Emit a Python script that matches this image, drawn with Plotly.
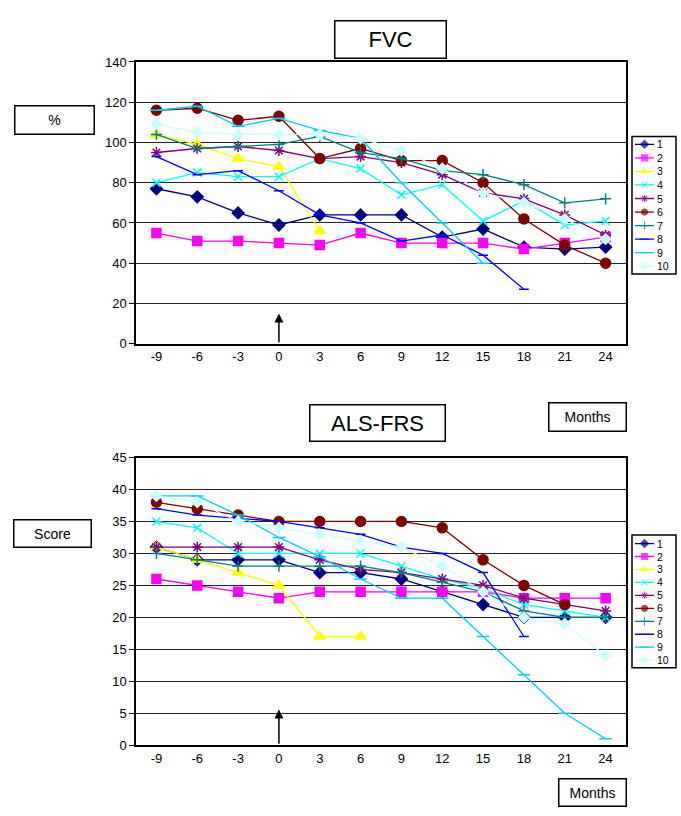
import plotly.graph_objects as go

months = [-9, -6, -3, 0, 3, 6, 9, 12, 15, 18, 21, 24]
month_labels = ["-9", "-6", "-3", "0", "3", "6", "9", "12", "15", "18", "21", "24"]
series_names = ["1", "2", "3", "4", "5", "6", "7", "8", "9", "10"]

# FVC (%)
fvc_1 = [77, 73, 65, 59, 64, 64, 64, 53, 57, 48, 47, 48]
fvc_2 = [55, 51, 51, 50, 49, 55, 50, 50, 50, 47, 50, 53]
fvc_3 = [104, 99, 92, 88, 56, None, None, None, None, None, None, None]
fvc_4 = [80, 85, 83, 83, 92, 87, 74, 79, 61, 71, 59, 61]
fvc_5 = [95, 97, 98, 96, 92, 93, 90, 84, 75, 72, 64, 54]
fvc_6 = [116, 117, 111, 113, 92, 97, 91, 91, 80, 62, 49, 40]
fvc_7 = [104, 97, 98, 99, 103, 95, 92, 86, 84, 79, 70, 72]
fvc_8 = [93, 84, 86, 76, 64, 60, 51, 54, 44, 27, None, None]
fvc_9 = [116, 118, 108, 112, 106, 102, 80, 60, 40, None, None, None]
fvc_10 = [109, 105, 104, 104, 104, 102, 96, 87, 75, 70, 62, 52]

# ALS-FRS (score)
als_1 = [31, 29, 29, 29, 27, 27, 26, 24, 22, 20, 20, 20]
als_2 = [26, 25, 24, 23, 24, 24, 24, 24, 24, 23, 23, 23]
als_3 = [31, 29, 27, 25, 17, 17, None, None, None, None, None, None]
als_4 = [35, 34, 30, 30, 30, 30, 28, 26, 24.5, 22, 21, 20]
als_5 = [31, 31, 31, 31, 29, 27.5, 27, 26, 25, 23, 22, 21]
als_6 = [38, 37, 36, 35, 35, 35, 35, 34, 29, 25, 22, None]
als_7 = [30, 29, 28, 28, 28, 28, 27, 25.5, 24, 21, 20, 20]
als_8 = [37, 36, 35.5, 35, 34, 33, 31, 30, 27, 17, None, None]
als_9 = [39, 39, 36, 32.5, 29.5, 26, 23, 23, 17, 11, 5, 1]
als_10 = [39, 38, 35, 34, 33, 32, 31, 28, 24, 20, 19, 14]

fvc_series = [fvc_1, fvc_2, fvc_3, fvc_4, fvc_5, fvc_6, fvc_7, fvc_8, fvc_9, fvc_10]
als_series = [als_1, als_2, als_3, als_4, als_5, als_6, als_7, als_8, als_9, als_10]

colors = ["#000080", "#FF00FF", "#FFFF00", "#00FFFF", "#800080",
          "#800000", "#008080", "#0000FF", "#00CCFF", "#CCFFFF"]
symbols = ["diamond", "square", "triangle-up", "x-thin-open", "asterisk-open",
           "circle", "cross-thin-open", "line-ew-open", "line-ew-open", "diamond"]
sizes = [9, 9, 10, 8, 9, 10, 8, 7, 9, 8]

W, H = 681, 816
FONT = "Liberation Sans, Arial, sans-serif"


def px(x):
    return x / W


def py(y):
    return 1 - y / H


fig = go.Figure()


def marker_for(i, size=None):
    s = sizes[i] if size is None else size
    return dict(symbol=symbols[i], size=s, color=colors[i],
                line=dict(color=colors[i], width=1.5))


for i, name in enumerate(series_names):
    fig.add_trace(go.Scatter(x=months, y=fvc_series[i], mode="lines+markers", name=name,
                             line=dict(color=colors[i], width=1.3), marker=marker_for(i),
                             xaxis="x", yaxis="y", showlegend=False))
    fig.add_trace(go.Scatter(x=months, y=als_series[i], mode="lines+markers", name=name,
                             line=dict(color=colors[i], width=1.3), marker=marker_for(i),
                             xaxis="x2", yaxis="y2", showlegend=False))

# compact legends drawn on their own small axes
legend_rows = list(range(1, len(series_names) + 1))
for i, name in enumerate(series_names):
    for xa, ya in (("x3", "y3"), ("x4", "y4")):
        fig.add_trace(go.Scatter(x=[0, 0.5, 1], y=[legend_rows[i]] * 3, mode="lines+markers",
                                 line=dict(color=colors[i], width=1.3),
                                 marker=dict(symbol=symbols[i], size=[0, 6, 0], color=colors[i],
                                             line=dict(color=colors[i], width=1.2)),
                                 xaxis=xa, yaxis=ya, showlegend=False, hoverinfo="skip"))

x_dom = [px(136), px(626)]
axis_common = dict(showline=True, mirror=True, linecolor="black", linewidth=1.5,
                   tickfont=dict(family=FONT, size=13, color="black"))

LEG1 = (133, 271)
LEG2 = (540, 672)

fig.update_layout(
    width=W, height=H,
    margin=dict(l=0, r=0, t=0, b=0),
    paper_bgcolor="white", plot_bgcolor="white",
    font=dict(family=FONT, color="black"),
    xaxis=dict(domain=x_dom, anchor="y", range=[-10.5, 25.5], tickvals=months,
               ticktext=month_labels, showgrid=False, zeroline=False, ticks="", **axis_common),
    yaxis=dict(domain=[py(343), py(56)], anchor="x", range=[0, 140], dtick=20,
               showgrid=True, gridcolor="#222222", gridwidth=1.2, zeroline=False,
               ticks="outside", ticklen=5, tickcolor="black", **axis_common),
    xaxis2=dict(domain=x_dom, anchor="y2", range=[-10.5, 25.5], tickvals=months,
                ticktext=month_labels, showgrid=False, zeroline=False, ticks="", **axis_common),
    yaxis2=dict(domain=[py(752), py(459)], anchor="x2", range=[0, 45], dtick=5,
                showgrid=True, gridcolor="#222222", gridwidth=1.2, zeroline=False,
                ticks="outside", ticklen=5, tickcolor="black", **axis_common),
    xaxis3=dict(domain=[px(635), px(654)], anchor="y3", range=[0, 1], visible=False),
    yaxis3=dict(domain=[py(LEG1[1]), py(LEG1[0])], anchor="x3", range=[10.5, 0.5], visible=False),
    xaxis4=dict(domain=[px(635), px(654)], anchor="y4", range=[0, 1], visible=False),
    yaxis4=dict(domain=[py(LEG2[1]), py(LEG2[0])], anchor="x4", range=[10.5, 0.5], visible=False),
)

# legend frames
fig.add_shape(type="rect", xref="paper", yref="paper", x0=px(632), x1=px(676),
              y0=py(272), y1=py(132), line=dict(color="black", width=1.5))
fig.add_shape(type="rect", xref="paper", yref="paper", x0=px(632), x1=px(676),
              y0=py(673), y1=py(538), line=dict(color="black", width=1.5))

# legend labels (paper coordinates, rows spaced like the small legend axes)
for (top, bottom) in (LEG1, LEG2):
    step = (bottom - top) / len(series_names)
    for i, name in enumerate(series_names):
        fig.add_annotation(x=px(656), y=py(top + step * (i + 0.5)), xref="paper", yref="paper",
                           text=name, showarrow=False, xanchor="left", yanchor="middle",
                           borderpad=0, font=dict(family=FONT, size=10.5, color="black"))


def box(text, x0, x1, y0, y1, size):
    fig.add_annotation(x=px((x0 + x1) / 2), y=py((y0 + y1) / 2), xref="paper", yref="paper",
                       text=text, showarrow=False, xanchor="center", yanchor="middle",
                       width=(x1 - x0) - 4, height=(y1 - y0) - 4,
                       bordercolor="black", borderwidth=1.5, borderpad=0, bgcolor="white",
                       font=dict(family=FONT, size=size, color="black"))


box("FVC", 333, 447, 13, 53, 22)
box("%", 13, 95, 100, 131, 14)
box("Months", 547, 627, 402, 433, 14)
box("ALS-FRS", 308, 446, 404, 443, 22)
box("Score", 13, 93, 521, 551, 14)
box("Months", 557, 627, 785, 815, 14)

# arrows marking month 0
fig.add_annotation(x=0, y=15, ax=0, ay=0, xref="x", yref="y", axref="x", ayref="y",
                   text="", showarrow=True, arrowhead=2, arrowsize=1.2, arrowwidth=1.5,
                   arrowcolor="black")
fig.add_annotation(x=0, y=5.6, ax=0, ay=0, xref="x2", yref="y2", axref="x2", ayref="y2",
                   text="", showarrow=True, arrowhead=2, arrowsize=1.2, arrowwidth=1.5,
                   arrowcolor="black")

fig.write_html("out.html", config={"displayModeBar": False},
               post_script="document.body.style.margin='0';document.body.style.overflow='hidden';")
